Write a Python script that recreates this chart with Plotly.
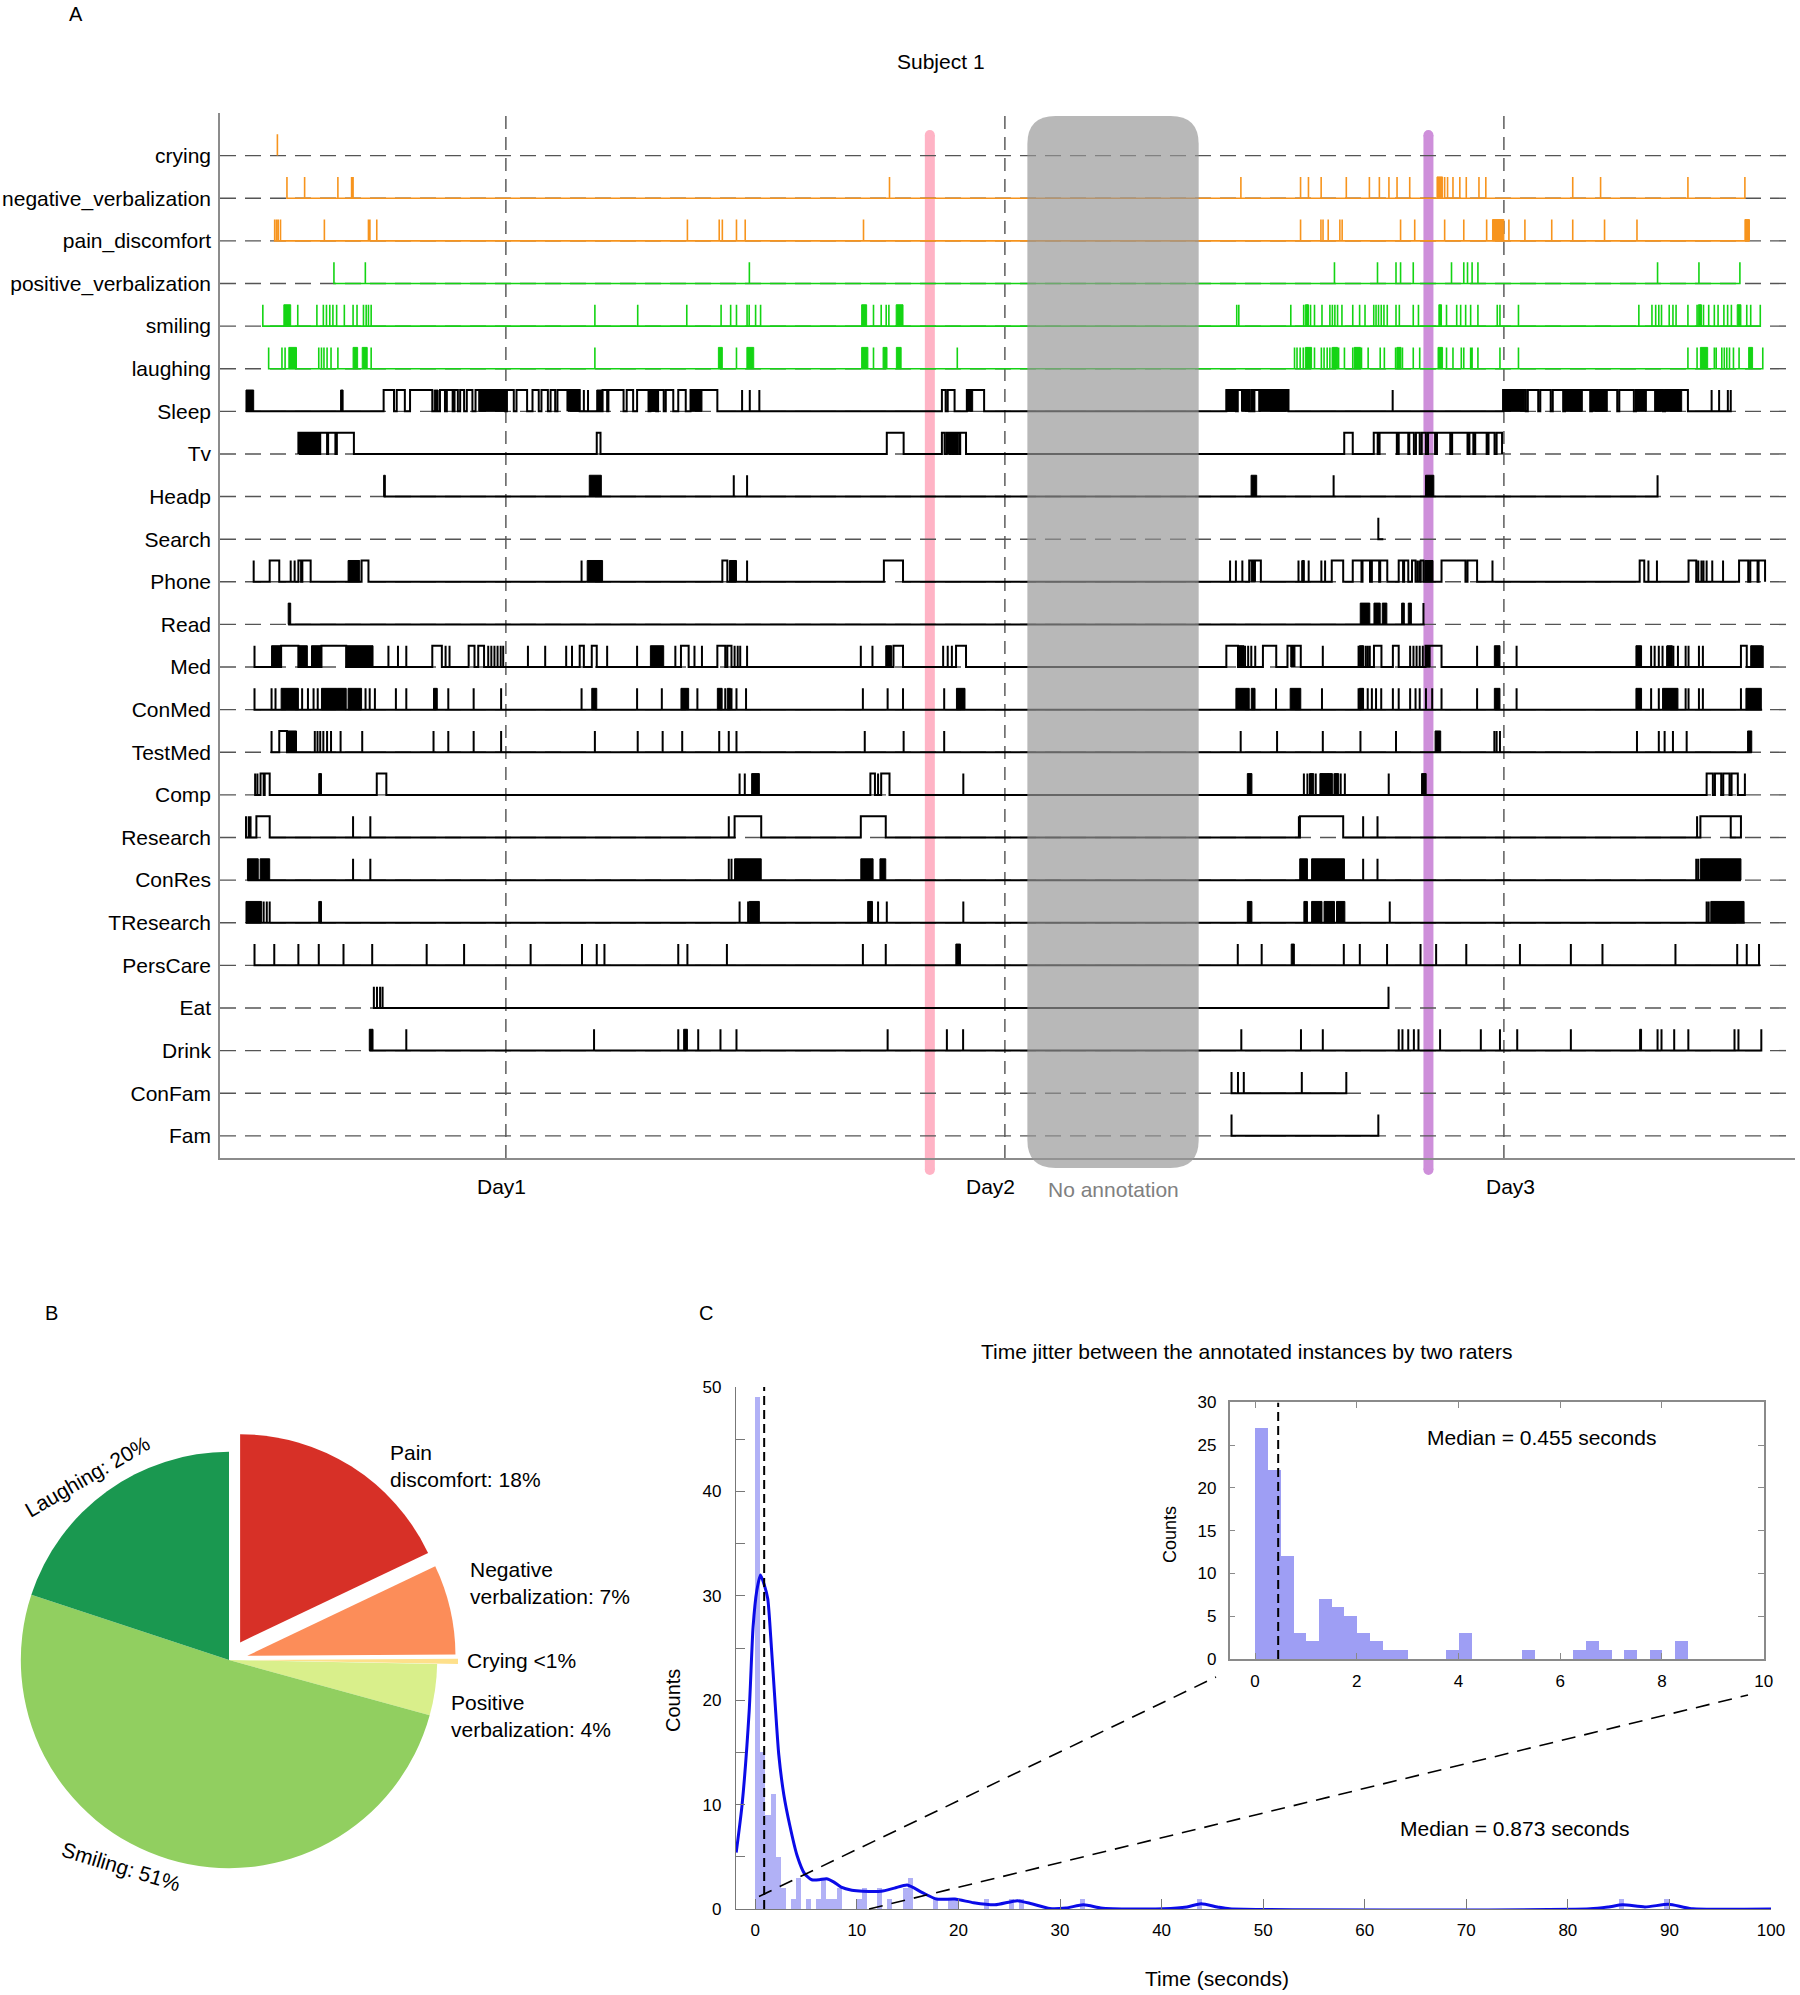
import plotly.graph_objects as go

W, H = 1800, 1995
FONT = "Liberation Sans, Arial, Helvetica, sans-serif"

# ---------------- Panel A data (time in hours since start of recording) ----------------
ROWS = ["crying", "negative_verbalization", "pain_discomfort", "positive_verbalization",
        "smiling", "laughing", "Sleep", "Tv", "Headp", "Search", "Phone", "Read", "Med",
        "ConMed", "TestMed", "Comp", "Research", "ConRes", "TResearch", "PersCare", "Eat",
        "Drink", "ConFam", "Fam"]
ROW_GROUP = ["neg"] * 3 + ["pos"] * 3 + ["act"] * 18
GROUP_COLOR = {"neg": "#F7941D", "pos": "#14D414", "act": "#000000"}

SPAN_START = [2.76, 3.22, 2.61, 5.48, 2.06, 2.34, 1.25, 3.77, 7.87, 55.71, 1.62, 3.28, 1.66,
              1.66, 2.48, 1.69, 1.25, 1.32, 1.25, 1.66, 7.40, 7.18, 48.65, 48.65]
SPAN_END = [2.76, 73.34, 73.56, 73.10, 74.08, 74.20, 72.70, 61.66, 69.14, 55.95, 74.31, 57.94,
            74.20, 74.17, 73.67, 73.34, 73.15, 73.15, 73.34, 74.08, 56.20, 74.13, 54.17, 55.71]

DAY_TIMES = [13.75, 37.75, 61.75]
DAY_LABELS = ["Day1", "Day2", "Day3"]
DAY_LABEL_POS = [13.52, 37.08, 62.05]
T_MAX = 75.75
EVENT_PINK = 34.14
EVENT_PURPLE = 58.12
NO_ANNOT_START, NO_ANNOT_END = 38.83, 47.07

# pulses: number = single short annotation, [a, b] = longer annotation
P_crying = [2.76]
P_negative = [3.22, 4.07, 5.67, 6.33, 6.40, 32.2, 49.1, 51.97, 52.35, 52.96, 54.17, 55.28,
              55.76, 56.22, 56.61, 57.22, 58.9, 59.04, 59.3, 59.63, 59.94, 60.55, 60.88, 65.06,
              66.4, 70.6, 73.34]
P_pain = [2.63, 2.72, 2.80, 2.91, 5.02, 7.14, 7.21, 7.54, 22.48, 24.01, 24.16, 24.84, 25.26,
          30.95, 51.97, 52.95, 53.05, 53.3, 53.86, 53.97, 56.78, 57.46, 58.9, 59.82, 60.92,
          61.99, 62.76, 64.05, 65.06, 66.59, 68.15]
P_positive = [5.48, 6.99, 25.46, 53.6, 55.67, 56.56, 56.78, 57.39, 59.23, 59.82, 60.0, 60.22,
              60.5, 69.14, 71.13, 73.1]
P_smiling = [2.06, 3.74, 4.66, 4.97, 5.12, 5.28, 5.43, 5.61, 5.98, 6.4, 6.59, 6.9, 7.03, 7.14,
             7.27, 18.03, 20.09, 22.45, 24.1, 24.56, 24.84, 25.35, 25.45, 25.76, 26.0, 31.43,
             31.8, 32.04, 32.17, 48.9, 49.0, 51.5, 52.12, 52.3, 52.45, 52.64, 53.0, 53.38, 53.5,
             53.62, 53.75, 53.96, 54.48, 54.81, 55.07, 55.49, 55.6, 55.72, 55.85, 55.98, 56.14,
             56.56, 56.72, 57.39, 57.64, 58.99, 59.48, 59.67, 59.91, 60.15, 60.5, 61.43, 61.56,
             62.45, 68.24, 68.87, 69.05, 69.2, 69.33, 69.7, 69.88, 70.03, 70.6, 71.04, 71.2,
             71.35, 71.6, 71.87, 72.05, 72.33, 72.51, 72.69, 73.43, 73.62, 74.08]
P_laughing = [2.34, 2.98, 3.13, 4.75, 4.88, 5.0, 5.15, 5.34, 5.67, 7.27, 18.03, 24.84, 31.43,
              35.46, 51.68, 51.8, 51.95, 52.1, 52.3, 52.64, 52.97, 53.1, 53.25, 53.38, 53.5,
              53.8, 54.08, 54.48, 54.6, 54.9, 55.22, 55.8, 56.0, 56.54, 56.87, 57.39, 57.7,
              58.99, 59.3, 59.7, 59.82, 60.15, 60.22, 60.5, 61.56, 62.45, 70.6, 71.04, 71.87,
              71.96, 72.23, 72.35, 72.47, 72.6, 72.79, 73.06, 74.2]
P_sleep = [[7.87, 8.37], [8.5, 8.89], [9.14, 10.21], [10.58, 10.82], [10.91, 11.19],
           [11.28, 11.44], [11.55, 11.74], [11.87, 12.14], [12.29, 12.47], [12.47, 13.71],
           [13.8, 14.13], [14.26, 14.77], [15.03, 15.33], [15.46, 15.77], [15.9, 16.12],
           [16.23, 16.71], [16.74, 17.3], 17.5, 17.7, [18.4, 18.62], [18.68, 19.41],
           [19.56, 19.87], [20.06, 20.61], [20.7, 20.98], [21.07, 21.34], [21.44, 21.8],
           [22.04, 22.4], [22.63, 23.92], 25.11, 25.48, 25.94, [34.72, 34.9], [35.0, 35.33],
           [35.92, 36.75], [48.4, 48.86], [48.95, 49.5], [49.6, 49.68], [49.75, 51.39], 56.4,
           [61.71, 62.8], [62.9, 63.4], [63.5, 64.0], [64.1, 64.6], [64.69, 65.9],
           [65.98, 67.2], [67.3, 68.0], [68.1, 69.4], [69.5, 70.6], 71.74, 72.1, 72.52, 72.66]
P_tv = [[3.77, 3.85], [3.92, 4.0], [4.07, 4.15], [4.22, 4.3], [4.37, 4.45], [4.52, 4.6],
        [4.67, 4.75], [4.82, 5.15], [5.2, 5.55], [5.62, 6.44], [18.12, 18.3], [32.07, 32.88],
        [34.72, 34.85], [34.95, 35.1], [35.15, 35.25], [35.3, 35.4], [35.45, 35.55],
        [35.6, 35.88], [54.07, 54.48], [55.49, 55.68], [55.77, 56.6], [56.69, 57.15],
        [57.2, 57.42], [57.52, 57.7], [57.8, 58.0], [58.1, 58.44], [58.53, 59.17],
        [59.26, 60.0], [60.09, 60.28], [60.37, 60.92], [61.01, 61.3], [61.4, 61.66]]
P_headp = [24.71, 25.35, 53.56, 69.14]
P_search = [55.71]
P_phone = [1.62, [2.39, 2.85], 3.4, 3.59, [3.77, 3.9], [3.96, 4.36], [6.81, 7.14], 17.39,
           [24.16, 24.4], 25.35, [31.93, 32.85], 48.58, 48.86, 49.17, [49.5, 50.06], 51.87,
           52.05, 52.36, 52.97, 53.15, [53.47, 54.02], [54.48, 54.9], [54.95, 55.31],
           [55.4, 55.75], [55.8, 56.14], [56.69, 56.9], [56.95, 57.15], [57.33, 57.5], 57.6,
           57.7, [57.75, 57.88], [58.75, 59.9], [60.0, 60.46], 61.2, [68.28, 68.5], 68.7,
           69.11, [70.63, 71.0], 71.1, 71.25, 71.35, 71.5, 71.77, 72.29, [73.06, 73.5],
           [73.6, 73.95], [74.0, 74.31]]
P_read = [57.88]
P_med = [1.66, [2.94, 3.77], [4.88, 6.07], 8.1, 8.56, 8.96, [10.21, 10.67], 10.85, 11.04,
         [11.96, 12.24], [12.42, 12.7], 12.9, 13.05, 13.2, 13.35, 13.5, 13.62, 14.81, 15.64,
         16.65, 16.93, [17.3, 17.5], [17.88, 18.12], 18.62, 20.06, 21.9, [22.17, 22.54], 22.82,
         23.18, [23.92, 24.3], [24.4, 24.6], 24.75, 24.9, 25.02, 25.35, 30.82, 31.38,
         [32.39, 32.85], 34.78, 35.0, 35.2, [35.4, 35.88], [48.4, 48.96], 49.1, 49.3, 49.45,
         49.6, 49.79, [50.16, 50.8], [51.34, 51.98], 53.04, 54.76, 54.95, 55.1, 55.2, 55.3,
         [55.5, 55.86], [56.41, 56.69], 57.24, 57.4, 57.55, 57.7, 57.85, [57.98, 58.75], 60.46,
         62.36, 68.83, 69.0, 69.2, 69.38, 69.6, 69.9, 70.12, 70.49, 70.63, 71.13, 71.32,
         [73.15, 73.43], 74.2]
P_conmed = [1.66, 2.48, 2.67, 3.95, 4.23, 4.5, 4.7, 7.0, 7.2, 7.45, 8.46, 8.96, 10.98, 12.2,
            13.52, 17.39, 20.06, 21.25, 22.96, 24.3, 24.6, 24.84, 25.3, 30.92, 32.11, 32.85,
            34.83, 50.79, 53.0, 54.76, 54.95, 55.2, 55.4, 55.6, 55.85, 56.41, 56.69, 57.24,
            57.5, 57.7, 58.0, 58.3, 58.75, 60.46, 62.36, 68.83, 69.2, 70.49, 70.63, 71.13,
            71.32, 73.15]
P_testmed = [2.48, [2.85, 3.22], 4.56, 4.69, 4.82, 4.97, 5.15, 5.34, 5.8, 6.84, 10.27, 10.98,
             12.2, 13.52, 18.03, 20.09, 21.29, 22.23, 24.01, 24.47, 24.84, 31.01, 32.88, 34.83,
             49.09, 50.84, 53.04, 54.85, 56.56, 61.29, 61.4, 61.56, 68.15, 69.2, 69.48, 69.88,
             70.54]
P_comp = [1.69, 1.8, [1.95, 2.1], [2.15, 2.39], [7.54, 8.0], 24.99, 25.24, [31.28, 31.5],
          31.65, [31.8, 32.2], 35.75, 52.13, 52.3, 52.5, 52.7, 53.0, 53.3, 53.6, 53.9, 54.1,
          56.21, [71.5, 71.8], [71.9, 72.2], [72.3, 72.6], [72.7, 73.0], 73.34]
P_research = [1.25, 1.38, 1.47, [1.75, 2.39], 6.4, 7.23, 24.47, [24.75, 26.03],
              [30.82, 32.02], 51.89, [51.94, 54.02], 54.98, 55.67, 71.04, [71.2, 73.15], 72.66]
P_conres = [6.4, 7.23, 24.47, 24.6, 54.98, 55.67, 71.0, 71.1]
P_tresearch = [2.1, 2.25, 2.39, 24.99, 25.4, 31.65, 32.07, 35.75, 56.26, 71.5, 71.6]
P_perscare = [1.66, 2.61, 3.77, 4.75, 5.94, 7.32, 9.94, 11.74, 14.94, 17.41, 18.12, 18.49,
              22.04, 22.48, 24.38, 30.92, 32.02, 48.95, 50.1, 54.05, 54.82, 56.13, 57.74, 58.49,
              59.94, 62.52, 64.97, 66.49, 70.0, 72.97, 73.43, 74.02]
P_eat = [7.4, 7.55, 7.7, 7.82, 56.2]
P_drink = [8.96, 17.99, 22.04, 23.0, 24.07, 24.84, 32.11, 34.96, 35.74, 49.12, 51.99, 53.04,
           56.69, 56.87, 57.15, 57.42, 57.64, 58.68, 60.64, 61.56, 62.39, 64.97, 69.14, 69.33,
           69.94, 70.62, 72.84, 73.03, 74.13]
P_confam = [48.65, 48.96, 49.24, 52.03, 54.17]
P_fam = [48.65, 55.71]

# dense clusters of annotations (drawn filled)
B_crying = []
B_negative = [[58.53, 58.8]]
B_pain = [[61.2, 61.75], [73.34, 73.56]]
B_positive = []
B_smiling = [[3.07, 3.4], [30.86, 31.1], [32.52, 32.85], [52.2, 52.35], [58.62, 58.75],
             [71.1, 71.25], [72.97, 73.15]]
B_laughing = [[3.31, 3.68], [6.4, 6.62], [6.84, 7.08], [23.97, 24.16], [25.34, 25.67],
              [30.86, 31.16], [31.89, 32.08], [32.53, 32.76], [52.2, 52.5], [53.5, 53.75],
              [54.55, 54.85], [56.6, 56.8], [58.58, 58.8], [71.2, 71.55], [73.52, 73.71]]
B_sleep = [[1.25, 1.62], [5.8, 5.92], [10.3, 10.49], [12.47, 13.71], [16.74, 17.3],
           [18.12, 18.4], [20.7, 20.98], [22.63, 23.18], [35.92, 36.2], [48.4, 48.86],
           [49.13, 49.5], [49.96, 51.39], [61.71, 62.76], [64.69, 65.52], [65.98, 66.72],
           [68.1, 68.6], [69.0, 70.3]]
B_tv = [[34.95, 35.4]]
B_headp = [[7.87, 7.95], [17.76, 18.34], [49.59, 49.86], [57.98, 58.38]]
B_search = []
B_phone = [[6.16, 6.72], [17.66, 18.4], [24.5, 24.84], [49.59, 49.8], [52.05, 52.15],
           [57.94, 58.34]]
B_read = [[3.28, 3.4], [54.84, 55.3], [55.5, 55.8], [55.9, 56.12], [56.83, 56.96],
          [57.15, 57.3]]
B_med = [[2.48, 2.94], [3.77, 4.2], [4.4, 4.88], [6.07, 7.36], [20.7, 21.34], [32.02, 32.3],
         [49.0, 49.25], [51.5, 51.7], [54.8, 55.0], [58.0, 58.2], [61.29, 61.56],
         [68.1, 68.37], [69.6, 69.85], [73.62, 74.17]]
B_conmed = [[2.94, 3.77], [4.88, 6.07], [6.16, 6.81], [10.27, 10.45], [17.88, 18.12],
            [22.17, 22.54], [23.92, 24.15], [24.4, 24.55], [35.42, 35.83], [48.86, 49.5],
            [49.6, 49.78], [51.47, 51.98], [54.8, 55.0], [61.29, 61.56], [68.1, 68.37],
            [69.38, 70.12], [73.39, 74.13]]
B_testmed = [[3.22, 3.68], [58.44, 58.71], [73.47, 73.67]]
B_comp = [[4.75, 4.88], [25.57, 25.94], [49.41, 49.63], [52.4, 52.6], [52.9, 53.5],
          [53.6, 53.8], [57.79, 58.01]]
B_research = []
B_conres = [[1.32, 1.84], [1.93, 2.39], [24.75, 26.03], [30.82, 31.41], [31.74, 32.02],
            [51.93, 52.3], [52.5, 54.08], [71.2, 73.15]]
B_tresearch = [[1.25, 2.0], [4.75, 4.88], [25.45, 25.94], [31.15, 31.38], [49.41, 49.63],
               [52.13, 52.3], [52.5, 53.0], [53.1, 53.6], [53.7, 54.1], [71.7, 73.3]]
B_perscare = [[35.39, 35.61], [51.52, 51.67]]
B_eat = []
B_drink = [[7.18, 7.36], [22.3, 22.48], [68.28, 68.37]]
B_confam = []
B_fam = []

PULSES = [P_crying, P_negative, P_pain, P_positive, P_smiling, P_laughing, P_sleep, P_tv,
          P_headp, P_search, P_phone, P_read, P_med, P_conmed, P_testmed, P_comp, P_research,
          P_conres, P_tresearch, P_perscare, P_eat, P_drink, P_confam, P_fam]
BLOCKS = [B_crying, B_negative, B_pain, B_positive, B_smiling, B_laughing, B_sleep, B_tv,
          B_headp, B_search, B_phone, B_read, B_med, B_conmed, B_testmed, B_comp, B_research,
          B_conres, B_tresearch, B_perscare, B_eat, B_drink, B_confam, B_fam]

# ---------------- Panel B data ----------------
PIE_LABELS = ["Pain discomfort", "Negative verbalization", "Crying", "Positive verbalization",
              "Smiling", "Laughing"]
PIE_VALUES = [18, 7, 0.4, 4, 51, 20]
PIE_COLORS = ["#D73027", "#FC8D59", "#FEE08B", "#D9EF8B", "#91CF60", "#1A9850"]
PIE_PULL = [0.1, 0.09, 0.1, 0, 0, 0]

# ---------------- Panel C data ----------------
MAIN_BIN_LEFT = [0, 0.5, 1.0, 1.5, 2.0, 2.5, 3.5, 4.0, 5.0, 6.0, 6.5, 7.0, 7.5, 8.0, 10.0, 10.5,
                 12.0, 13.0, 14.5, 15.0, 17.5, 19.0, 19.5, 22.5, 25.0, 26.0, 32.0, 43.5, 85.0,
                 89.5]
MAIN_COUNTS = [49, 15, 9, 11, 5, 2, 1, 3, 1, 1, 3, 1, 1, 2, 1, 2, 2, 1, 2, 3, 1, 1, 1, 1, 1, 1,
               1, 1, 1, 1]
MAIN_BIN_W = 0.5
INSET_BIN_LEFT = [0, 0.25, 0.5, 0.75, 1.0, 1.25, 1.5, 1.75, 2.0, 2.25, 2.5, 2.75, 3.75, 4.0,
                  5.25, 6.25, 6.5, 6.75, 7.25, 7.75, 8.25]
INSET_COUNTS = [27, 22, 12, 3, 2, 7, 6, 5, 3, 2, 1, 1, 1, 3, 1, 1, 2, 1, 1, 1, 2]
INSET_BIN_W = 0.25
KDE_X = [-1.88, -1.3, -0.6, -0.22, 0.15, 0.51, 0.9, 1.23, 1.59, 2.0, 2.31, 2.8, 3.4, 4.12, 4.84,
         5.56, 6.3, 7.0, 7.7, 8.45, 9.5, 10.6, 12.4, 13.7, 14.96, 16.4, 17.85, 19.65, 21.5,
         23.6, 25.8, 27.2, 29.0, 30.6, 32.3, 34.0, 35.2, 40.2, 42.5, 43.9, 45.5, 46.7, 82.2,
         84.0, 85.4, 87.6, 89.9, 91.3, 92.3, 100]
KDE_Y = [5.4, 10.0, 19.0, 27.0, 30.5, 32.0, 31.0, 29.7, 25.0, 19.0, 14.8, 11.0, 8.0, 5.1, 3.4,
         2.8, 2.8, 2.9, 2.6, 2.1, 1.8, 1.7, 1.7, 2.0, 2.3, 1.6, 0.95, 0.95, 0.6, 0.4, 0.8, 0.5,
         0.05, 0.1, 0.4, 0.1, 0.03, 0.03, 0.2, 0.5, 0.2, 0.02, 0.02, 0.2, 0.4, 0.2, 0.45, 0.2,
         0.02, 0.0]
MEDIAN_ALL = 0.873
MEDIAN_INSET = 0.455


def px(x):
    return x / W


def py(y):
    return 1 - y / H


def row_path(s0, s1, items, base, h=0.5):
    def key(e):
        return e[0] if isinstance(e, (list, tuple)) else e
    xs, ys = [s0], [base]
    for e in sorted(items, key=key):
        a, b = (e[0], e[1]) if isinstance(e, (list, tuple)) else (e, e)
        xs += [a, a, b, b]
        ys += [base, base + h, base + h, base]
    xs.append(s1)
    ys.append(base)
    return xs, ys


def block_path(blocks, base, h=0.5):
    xs, ys = [], []
    for a, b in blocks:
        xs += [a, a, b, b, a, None]
        ys += [base, base + h, base + h, base, base, None]
    return xs, ys


fig = go.Figure()

# ---- Panel A ----
n = len(ROWS)
bases = [n - i for i in range(n)]
dx, dy = [], []
for b in bases:
    dx += [0, T_MAX, None]
    dy += [b, b, None]
fig.add_trace(go.Scatter(x=dx, y=dy, mode="lines", xaxis="x", yaxis="y",
                         line=dict(color="#555555", width=1.4, dash="16px,9px"),
                         hoverinfo="skip", showlegend=False))
for i in range(n):
    col = GROUP_COLOR[ROW_GROUP[i]]
    lw = 2 if ROW_GROUP[i] == "act" else 1.6
    xs, ys = row_path(SPAN_START[i], SPAN_END[i], PULSES[i], bases[i])
    fig.add_trace(go.Scatter(x=xs, y=ys, mode="lines", xaxis="x", yaxis="y",
                             line=dict(color=col, width=lw), hoverinfo="skip",
                             showlegend=False))
    if BLOCKS[i]:
        bx, by = block_path(BLOCKS[i], bases[i])
        fig.add_trace(go.Scatter(x=bx, y=by, mode="lines", xaxis="x", yaxis="y",
                                 fill="toself", fillcolor=col,
                                 line=dict(color=col, width=1), hoverinfo="skip",
                                 showlegend=False))

shapes = []
for t in DAY_TIMES:
    shapes.append(dict(type="line", xref="x", yref="y domain", x0=t, x1=t, y0=0, y1=1,
                       line=dict(color="#444444", width=1.3, dash="13px,8px"), layer="below"))
for t, c in [(EVENT_PINK, "#FFB3C5"), (EVENT_PURPLE, "#CE8FDA")]:
    shapes.append(dict(type="line", xref="x", yref="paper", x0=t, x1=t, y0=py(1170),
                       y1=py(135), line=dict(color=c, width=10), layer="below"))
    for yy in (1170, 135):
        shapes.append(dict(type="circle", xref="x", yref="paper", x0=t - 0.24, x1=t + 0.24,
                           y0=py(yy + 5), y1=py(yy - 5), fillcolor=c, line=dict(width=0),
                           layer="below"))
# rounded "no annotation" box
x0, x1 = NO_ANNOT_START, NO_ANNOT_END
y0, y1 = py(1168), py(116)
rx, ry = 1.35, 28 / H
path = (f"M {x0 + rx},{y1} L {x1 - rx},{y1} Q {x1},{y1} {x1},{y1 - ry} "
        f"L {x1},{y0 + ry} Q {x1},{y0} {x1 - rx},{y0} L {x0 + rx},{y0} "
        f"Q {x0},{y0} {x0},{y0 + ry} L {x0},{y1 - ry} Q {x0},{y1} {x0 + rx},{y1} Z")
shapes.append(dict(type="path", xref="x", yref="paper", path=path,
                   fillcolor="rgba(150,150,150,0.68)", line=dict(width=0), layer="above"))

# ---- Panel B ----
fig.add_trace(go.Pie(labels=PIE_LABELS, values=PIE_VALUES, sort=False, direction="clockwise",
                     rotation=0, pull=PIE_PULL, marker=dict(colors=PIE_COLORS,
                                                            line=dict(width=0)),
                     textinfo="none", hoverinfo="skip", showlegend=False,
                     domain=dict(x=[px(0), px(458)], y=[py(1891), py(1429)])))

# ---- Panel C ----
fig.add_trace(go.Bar(x=[l + MAIN_BIN_W / 2 for l in MAIN_BIN_LEFT], y=MAIN_COUNTS,
                     width=MAIN_BIN_W, xaxis="x2", yaxis="y2",
                     marker=dict(color="rgba(125,125,240,0.6)", line=dict(width=0)),
                     hoverinfo="skip", showlegend=False))
fig.add_trace(go.Scatter(x=KDE_X, y=KDE_Y, mode="lines", xaxis="x2", yaxis="y2",
                         line=dict(color="#0B0BE8", width=3, shape="spline", smoothing=0.6),
                         hoverinfo="skip", showlegend=False))
fig.add_trace(go.Bar(x=[l + INSET_BIN_W / 2 for l in INSET_BIN_LEFT], y=INSET_COUNTS,
                     width=INSET_BIN_W, xaxis="x3", yaxis="y3",
                     marker=dict(color="rgba(125,125,240,0.75)", line=dict(width=0)),
                     hoverinfo="skip", showlegend=False))
shapes.append(dict(type="line", xref="x2", yref="y2", x0=MEDIAN_ALL, x1=MEDIAN_ALL, y0=0,
                   y1=50, line=dict(color="black", width=2, dash="9px,5px")))
shapes.append(dict(type="line", xref="x3", yref="y3", x0=MEDIAN_INSET, x1=MEDIAN_INSET, y0=0,
                   y1=30, line=dict(color="black", width=2, dash="9px,5px")))

MAIN_XDOM = [px(736), px(1771)]
MAIN_YDOM = [py(1909), py(1387)]
MAIN_XR = [-1.9, 100]
MAIN_YR = [0, 50]
INSET_XDOM = [px(1229.6), px(1763.7)]
INSET_YDOM = [py(1659), py(1402.4)]


def main_to_paper(xv, yv):
    fx = (xv - MAIN_XR[0]) / (MAIN_XR[1] - MAIN_XR[0])
    fy = (yv - MAIN_YR[0]) / (MAIN_YR[1] - MAIN_YR[0])
    return (MAIN_XDOM[0] + fx * (MAIN_XDOM[1] - MAIN_XDOM[0]),
            MAIN_YDOM[0] + fy * (MAIN_YDOM[1] - MAIN_YDOM[0]))


for (xv, yv), (ex, ey) in [((0.36, 1.2), (1216, 1677)), ((11.2, 0), (1748, 1695))]:
    sx, sy = main_to_paper(xv, yv)
    shapes.append(dict(type="line", xref="paper", yref="paper", x0=sx, y0=sy, x1=px(ex),
                       y1=py(ey), line=dict(color="black", width=1.6, dash="14px,9px")))

ann = []


def text(x, y, s, size=21, color="black", angle=0, xanchor="center", align="center"):
    ann.append(dict(x=px(x), y=py(y), xref="paper", yref="paper", text=s, showarrow=False,
                    font=dict(size=size, color=color, family=FONT), textangle=angle,
                    xanchor=xanchor, yanchor="middle", align=align))


text(76, 14, "A", 20)
text(941, 61, "Subject 1")
for pos, lab in zip(DAY_LABEL_POS, DAY_LABELS):
    ann.append(dict(x=pos, y=py(1186), xref="x", yref="paper", text=lab, showarrow=False,
                    yanchor="middle", font=dict(size=21, color="black", family=FONT)))
ann.append(dict(x=(NO_ANNOT_START + NO_ANNOT_END) / 2, y=py(1189), xref="x", yref="paper",
                text="No annotation", showarrow=False, yanchor="middle",
                font=dict(size=21, color="#808080", family=FONT)))
text(51, 1313, "B", 20)
text(706, 1313, "C", 20)
text(388, 1466, "Pain<br>discomfort: 18%", xanchor="left", align="left")
text(468, 1583, "Negative<br>verbalization: 7%", xanchor="left", align="left")
text(465, 1660, "Crying <1%", xanchor="left", align="left")
text(449, 1716, "Positive<br>verbalization: 4%", xanchor="left", align="left")
text(87, 1476, "Laughing: 20%", angle=-30)
text(121, 1866, "Smiling: 51%", angle=17)
text(1247, 1351, "Time jitter between the annotated instances by two raters", 21)
text(673, 1701, "Counts", 20, angle=-90)
text(1170, 1535, "Counts", 18, angle=-90)
text(1217, 1978, "Time (seconds)", 21)
text(1541, 1437, "Median = 0.455 seconds")
text(1514, 1828, "Median = 0.873 seconds")

axis_common = dict(showgrid=False, zeroline=False, automargin=False)
fig.update_layout(
    width=W, height=H, margin=dict(l=0, r=0, t=0, b=0),
    paper_bgcolor="white", plot_bgcolor="rgba(0,0,0,0)",
    font=dict(family=FONT, size=21, color="black"),
    shapes=shapes, annotations=ann, bargap=0,
    xaxis=dict(domain=[px(220), px(1795)], range=[0, T_MAX], showline=True,
               linecolor="#8c8c8c", linewidth=1.5, tickvals=DAY_TIMES,
               showticklabels=False, ticks="", anchor="y", **axis_common),
    yaxis=dict(domain=[py(1158), py(113)], range=[0.48, 25.0], showline=True,
               linecolor="#8c8c8c", linewidth=1.5, tickvals=bases, ticktext=ROWS, ticks="",
               tickfont=dict(size=21), ticklabelstandoff=3, anchor="x", **axis_common),
    xaxis2=dict(domain=MAIN_XDOM, range=MAIN_XR, anchor="y2", showline=True,
                linecolor="#777777", linewidth=1.2, ticks="inside", ticklen=10,
                tickcolor="#777777", tickvals=list(range(0, 101, 10)),
                tickfont=dict(size=17), ticklabelstandoff=5, **axis_common),
    yaxis2=dict(domain=MAIN_YDOM, range=MAIN_YR, anchor="x2", showline=True,
                linecolor="#777777", linewidth=1.2, ticks="inside", ticklen=9,
                tickcolor="#777777", tickvals=list(range(0, 51, 10)),
                minor=dict(tickvals=list(range(5, 50, 10)), ticks="inside", ticklen=9,
                           tickcolor="#777777"),
                tickfont=dict(size=17), ticklabelstandoff=10, **axis_common),
    xaxis3=dict(domain=INSET_XDOM, range=[-0.5, 10], anchor="y3", showline=True,
                mirror="ticks", linecolor="#8a8a8a", linewidth=1.5, ticks="inside",
                ticklen=6, tickcolor="#8a8a8a", tickvals=list(range(0, 11, 2)),
                tickfont=dict(size=17), ticklabelstandoff=6, **axis_common),
    yaxis3=dict(domain=INSET_YDOM, range=[0, 30], anchor="x3", showline=True,
                mirror="ticks", linecolor="#8a8a8a", linewidth=1.5, ticks="inside",
                ticklen=6, tickcolor="#8a8a8a", tickvals=list(range(0, 31, 5)),
                tickfont=dict(size=17), ticklabelstandoff=8, **axis_common),
)

fig.write_html("out.html", config={"displayModeBar": False},
               post_script="document.body.style.margin='0';")
